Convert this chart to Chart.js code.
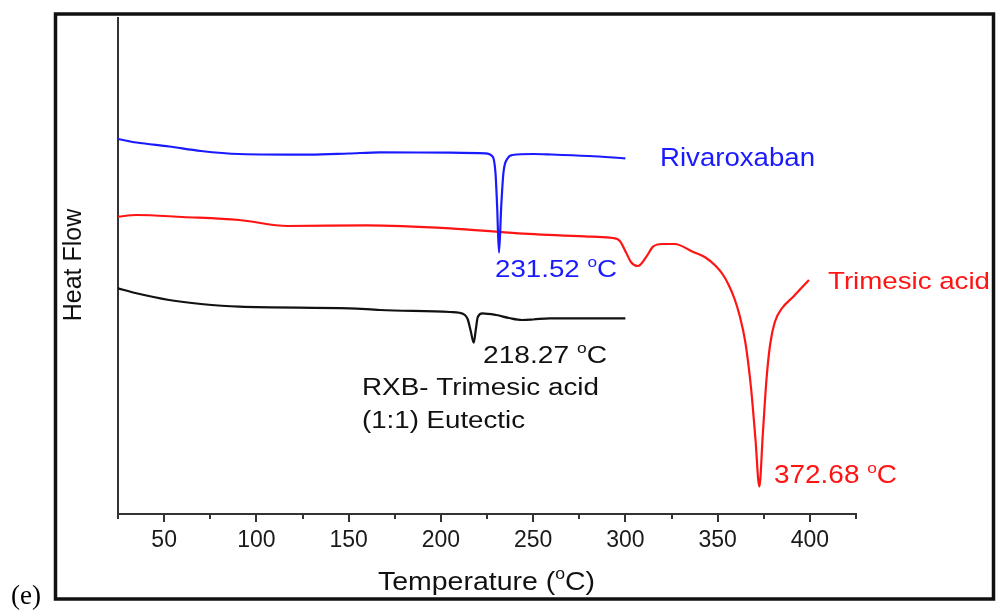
<!DOCTYPE html>
<html>
<head>
<meta charset="utf-8">
<script src="https://cdn.jsdelivr.net/npm/chart.js@4.4.1/dist/chart.umd.min.js"></script>
<style>
  body { margin: 0; background: #fff; }
  #wrap { width: 997px; height: 611px; position: relative; }
</style>
</head>
<body>
<div id="wrap"><canvas id="js--chart"></canvas></div>
<script>
// temperatures (°C) and heat flow (arbitrary units, no scale on the plot)
const rxbTemp = [25, 35, 52.7, 70, 90.7, 129, 150, 167, 205, 224, 228.1, 229.6, 230.5, 231.5, 232.7, 233.9, 236.3, 238.8, 250, 260, 280, 300];
const rxbFlow = [37.5, 37.15, 36.75, 36.3, 36.0, 35.93, 36.05, 36.17, 36.13, 36.07, 35.73, 34.1, 30.73, 26.13, 30.73, 34.1, 35.6, 35.9, 36.0, 35.95, 35.8, 35.57];

const tmaTemp = [25, 35, 60, 90.7, 117, 160, 205, 242, 282, 293, 297, 300.5, 303, 306.8, 311.4, 315, 320, 326.7, 336.5, 343, 349, 353, 356, 359, 362, 365, 368, 370.5, 372.6, 374.5, 376.5, 378.5, 381, 385, 391, 399.5];
const tmaFlow = [29.73, 29.9, 29.7, 29.4, 28.8, 28.87, 28.57, 28.07, 27.73, 27.6, 27.3, 26.1, 25.2, 24.8, 25.73, 26.73, 27.0, 27.0, 26.23, 25.7, 24.8, 23.9, 22.9, 21.6, 19.8, 17.2, 12.8, 7.5, 2.73, 8.0, 13.5, 17.0, 19.2, 20.6, 21.73, 23.4];

const eutTemp = [25, 35, 52.7, 70, 90.7, 150.4, 167, 205, 210, 213, 214.5, 216.3, 217.8, 218.9, 220, 222.5, 230, 237, 244, 250, 259, 300];
const eutFlow = [22.57, 22.07, 21.4, 21.0, 20.73, 20.57, 20.4, 20.2, 20.13, 19.9, 19.5, 18.2, 17.13, 18.4, 19.7, 20.07, 19.9, 19.6, 19.4, 19.45, 19.57, 19.57];

const xTicks = [50, 100, 150, 200, 250, 300, 350, 400];

function toPoints(xs, ys) {
  return xs.map(function (x, i) { return { x: x, y: ys[i] }; });
}

const BLUE = "#1a1aff";
const RED = "#ff1414";
const BLACK = "#111111";

// text drawn on top: a "^" makes the next character a superscript
const labels = [
  { t: "Rivaroxaban", x: 660, y: 166, size: 25, color: BLUE, w: 155 },
  { t: "231.52 ^oC", x: 495, y: 277, size: 24.5, color: BLUE, w: 122 },
  { t: "Trimesic acid", x: 828, y: 289, size: 24.5, color: RED, w: 162 },
  { t: "372.68 ^oC", x: 774, y: 483, size: 25, color: RED, w: 123 },
  { t: "218.27 ^oC", x: 483, y: 363, size: 24.5, color: BLACK, w: 124 },
  { t: "RXB- Trimesic acid", x: 362, y: 395, size: 23.5, color: BLACK, w: 237 },
  { t: "(1:1) Eutectic", x: 362, y: 428, size: 23.5, color: BLACK, w: 163 },
  { t: "Temperature (^oC)", x: 378, y: 590, size: 26.5, color: BLACK, w: 217 }
];

function splitParts(text) {
  const bits = text.split("^");
  const parts = [{ t: bits[0], sup: false }];
  for (let i = 1; i < bits.length; i++) {
    parts.push({ t: bits[i].charAt(0), sup: true });
    parts.push({ t: bits[i].slice(1), sup: false });
  }
  return parts;
}

function drawLabel(ctx, l) {
  const parts = splitParts(l.t);
  const fontFor = function (p) {
    return (p.sup ? l.size * 0.62 : l.size) + 'px "Liberation Sans", Arial, sans-serif';
  };
  let total = 0;
  parts.forEach(function (p) { ctx.font = fontFor(p); total += ctx.measureText(p.t).width; });
  const sx = l.w ? l.w / total : 1;
  ctx.save();
  ctx.fillStyle = l.color;
  ctx.textBaseline = "alphabetic";
  ctx.textAlign = "left";
  ctx.translate(l.x, l.y);
  ctx.scale(sx, 1);
  let cx = 0;
  parts.forEach(function (p) {
    ctx.font = fontFor(p);
    ctx.fillText(p.t, cx, p.sup ? -l.size * 0.4 : 0);
    cx += ctx.measureText(p.t).width;
  });
  ctx.restore();
}

const decorations = {
  id: "decorations",
  afterDraw: function (chart) {
    const ctx = chart.ctx;
    const xs = chart.scales.x;
    const bottom = chart.chartArea.bottom;

    // major / minor ticks on the temperature axis
    ctx.save();
    ctx.strokeStyle = "#333";
    ctx.lineWidth = 2;
    for (let v = 25; v <= 425; v += 25) {
      const px = Math.round(xs.getPixelForValue(v));
      ctx.beginPath();
      ctx.moveTo(px, bottom);
      ctx.lineTo(px, bottom + (v % 50 === 0 ? 8 : 5));
      ctx.stroke();
    }
    ctx.restore();

    labels.forEach(function (l) { drawLabel(ctx, l); });

    // y title
    ctx.save();
    ctx.translate(74, 265);
    ctx.rotate(-Math.PI / 2);
    ctx.font = '25px "Liberation Sans", Arial, sans-serif';
    ctx.fillStyle = BLACK;
    ctx.textAlign = "center";
    ctx.textBaseline = "middle";
    ctx.fillText("Heat Flow", 0, 0);
    ctx.restore();

    // panel letter and outer frame
    ctx.save();
    ctx.font = '27px "Liberation Serif", "Times New Roman", serif';
    ctx.fillStyle = "#000";
    ctx.textBaseline = "alphabetic";
    ctx.fillText("(e)", 11, 604);
    ctx.strokeStyle = "#111";
    ctx.lineWidth = 3.5;
    ctx.strokeRect(55.5, 14, 938, 585);
    ctx.restore();
  }
};

const data = {
  datasets: [
    { label: "Rivaroxaban", data: toPoints(rxbTemp, rxbFlow), borderColor: BLUE },
    { label: "Trimesic acid", data: toPoints(tmaTemp, tmaFlow), borderColor: RED },
    { label: "RXB- Trimesic acid (1:1) Eutectic", data: toPoints(eutTemp, eutFlow), borderColor: BLACK }
  ]
};

const config = {
  type: "line",
  data: data,
  options: {
    responsive: true,
    maintainAspectRatio: false,
    animation: false,
    layout: { padding: { left: 118, right: 141, top: 18, bottom: 0 } },
    elements: {
      point: { radius: 0 },
      line: { borderWidth: 2.2, cubicInterpolationMode: "monotone", fill: false }
    },
    plugins: { legend: { display: false }, tooltip: { enabled: false } },
    scales: {
      x: {
        type: "linear",
        min: 25,
        max: 425,
        afterFit: function (scale) { scale.height = 97; },
        afterBuildTicks: function (scale) {
          scale.ticks = xTicks.map(function (v) { return { value: v }; });
        },
        grid: { display: false, drawTicks: false },
        border: { display: true, color: "#333", width: 2 },
        ticks: {
          autoSkip: false,
          maxRotation: 0,
          padding: 13,
          color: "#1a1a1a",
          font: { family: '"Liberation Sans", Arial, sans-serif', size: 23 }
        }
      },
      y: {
        type: "linear",
        min: 0,
        max: 49.6,
        afterFit: function (scale) { scale.width = 0; },
        grid: { display: false, drawTicks: false },
        border: { display: true, color: "#333", width: 2 },
        ticks: { display: false }
      }
    }
  },
  plugins: [decorations]
};

new Chart(document.getElementById("js--chart"), config);
</script>
</body>
</html>
